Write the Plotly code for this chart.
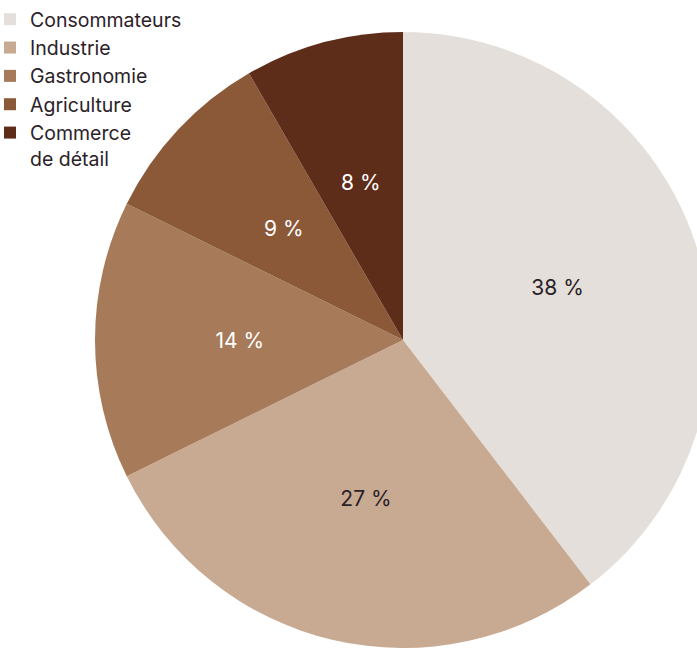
import plotly.graph_objects as go

categories = ["Consommateurs", "Industrie", "Gastronomie", "Agriculture", "Commerce<br>de détail"]
values = [38, 27, 14, 9, 8]
colors = ["#e4dfda", "#c8aa92", "#a77a59", "#8b5838", "#5e2d1a"]
text_colors = ["#2b2228", "#2b2228", "#ffffff", "#ffffff", "#ffffff"]

W, H = 720, 662
cx, cy, r = 403, 340, 308
FONT = "Inter"


def dom(rad):
    return dict(x=[(cx - rad) / W, (cx + rad) / W], y=[(H - cy - rad) / H, (H - cy + rad) / H])


fig = go.Figure()
# Filled pie (colours + legend)
fig.add_trace(go.Pie(
    labels=categories,
    values=values,
    marker=dict(colors=colors, line=dict(width=0)),
    sort=False,
    direction="clockwise",
    rotation=0,
    textinfo="none",
    hoverinfo="label+value",
    domain=dom(r),
))
# Transparent thin ring carrying the percentage labels at ~half radius
ring_out, ring_in = 0.665, 0.395
fig.add_trace(go.Pie(
    labels=categories,
    values=values,
    marker=dict(colors=["rgba(0,0,0,0)"] * len(values), line=dict(width=0)),
    sort=False,
    direction="clockwise",
    rotation=0,
    hole=ring_in / ring_out,
    texttemplate="%{value} %",
    textposition="inside",
    insidetextorientation="horizontal",
    insidetextfont=dict(color=text_colors, size=21, family=FONT),
    showlegend=False,
    hoverinfo="skip",
    domain=dom(ring_out * r),
))

fig.update_layout(
    width=W, height=H,
    margin=dict(l=0, r=0, t=0, b=0, autoexpand=False),
    paper_bgcolor="#ffffff",
    plot_bgcolor="#ffffff",
    showlegend=True,
    legend=dict(
        x=-10 / W, y=1 - 0 / H, xanchor="left", yanchor="top",
        font=dict(size=19.5, family=FONT, color="#2b2228"),
        valign="top",
        bgcolor="rgba(0,0,0,0)",
        tracegroupgap=0,
    ),
    font=dict(family=FONT),
)

fig.write_html(
    "out.html",
    config={"displayModeBar": False},
    post_script="document.body.style.margin='0';document.body.style.overflow='hidden';document.documentElement.style.overflow='hidden';",
)
